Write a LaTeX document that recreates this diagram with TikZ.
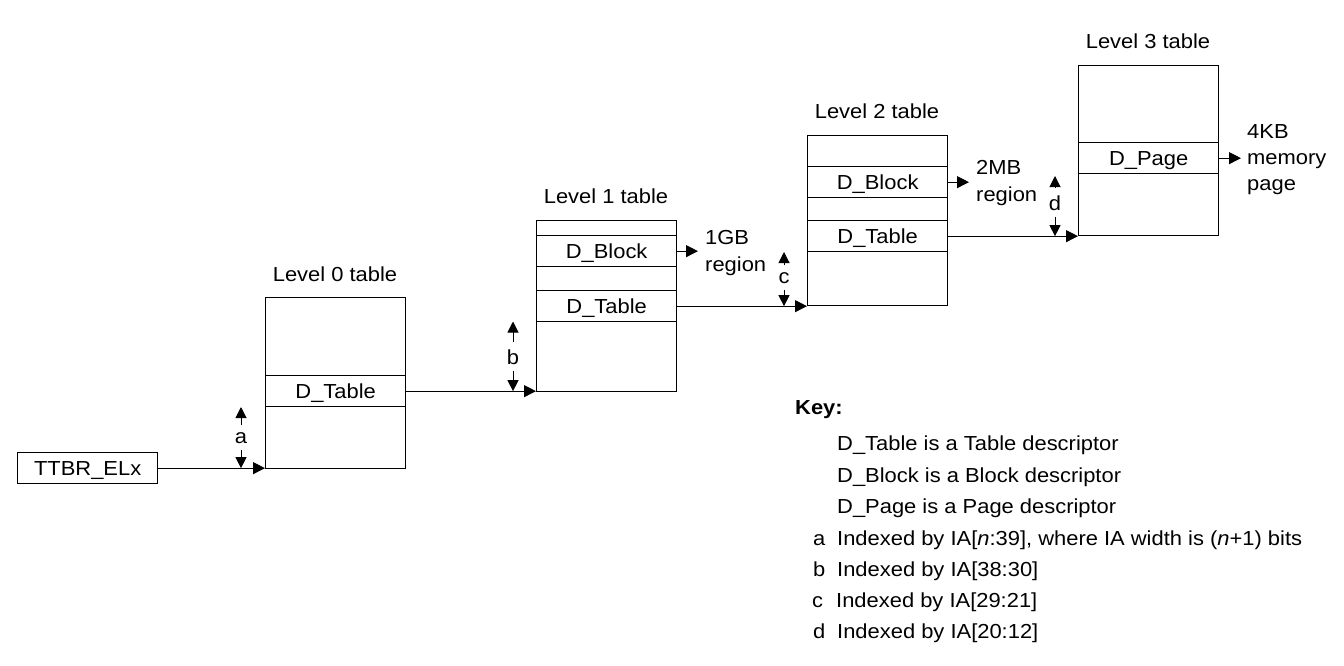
\documentclass[tikz,border=0pt]{standalone}
\usepackage{fontspec}
\setmainfont{Liberation Sans}[FakeStretch=1.08]
\usetikzlibrary{arrows.meta}
\begin{document}
\begin{tikzpicture}[x=1pt,y=-1pt,
  every node/.style={font=\fontsize{20.3}{27}\selectfont},
  tbl/.style={draw, line width=1.3pt, minimum width=140pt, inner sep=0pt, anchor=north west},
  rowbox/.style={draw, line width=1.3pt, minimum width=140pt, minimum height=31pt, inner sep=0pt, anchor=north west, text height=14.6pt, text depth=0pt},
  conn/.style={line width=1pt, -{Triangle[length=12pt,width=12pt]}},
  idx/.style={line width=1pt, -{Triangle[length=11pt,width=11pt]}},
  lbl/.style={anchor=base, inner sep=0pt},
  ilbl/.style={inner sep=0pt},
  reg/.style={anchor=west, align=left, inner sep=0pt},
  kt/.style={anchor=base west, inner sep=0pt},
]
\fill[white] (0,0) rectangle (1344,665);
\useasboundingbox (0,0) rectangle (1344,665);

% tables
\node[tbl, minimum height=171pt] (t0) at (265,297) {};
\node[rowbox] (t0t) at (265,375) {D\_Table};
\node[tbl, minimum height=170.5pt] (t1) at (536,220) {};
\node[rowbox] (t1b) at (536,235) {D\_Block};
\node[rowbox] (t1t) at (536,290) {D\_Table};
\node[tbl, minimum height=170pt] (t2) at (807,135) {};
\node[rowbox] (t2b) at (807,166) {D\_Block};
\node[rowbox] (t2t) at (807,220) {D\_Table};
\node[tbl, minimum height=170pt] (t3) at (1078,65) {};
\node[rowbox] (t3p) at (1078,142) {D\_Page};
\node[rowbox] (ttbr) at (17,452) {TTBR\_ELx};

% table titles
\node[lbl] (l0) at (335,281) {Level 0 table};
\node[lbl] (l1) at (606,203) {Level 1 table};
\node[lbl] (l2) at (877,118) {Level 2 table};
\node[lbl] (l3) at (1148,48) {Level 3 table};

% connectors
\draw[conn] (ttbr.east) -- (ttbr.east -| t0.west);
\draw[conn] (t0t.east) -- (t0t.east -| t1.west);
\draw[conn] (t1t.east) -- (t1t.east -| t2.west);
\draw[conn] (t2t.east) -- (t2t.east -| t3.west);

% regions
\node[reg] (r1) at (705,252.6) {1GB\\region};
\node[reg] (r2) at (976,182.6) {2MB\\region};
\node[reg, font=\fontsize{20.3}{25.7}\selectfont] (r3) at (1247,159.5) {4KB\\memory\\page};
\draw[conn, shorten >=7pt] (t1b.east) -- (t1b.east -| r1.west);
\draw[conn, shorten >=7pt] (t2b.east) -- (t2b.east -| r2.west);
\draw[conn, shorten >=6pt] (t3p.east) -- (t3p.east -| r3.west);

% index markers
\node[ilbl] (ia) at (241,438) {a};
\coordinate (iat) at (241,407);
\draw[idx, shorten <=7pt] (ia.north) -- (iat);
\draw[idx, shorten <=6pt] (ia.south) -- (ia.south |- ttbr.east);

\node[ilbl] (ib) at (513,357) {b};
\coordinate (ibt) at (513,321.5);
\draw[idx, shorten <=7pt] (ib.north) -- (ibt);
\draw[idx, shorten <=6pt] (ib.south) -- (ib.south |- t0t.east);

\node[ilbl] (ic) at (784,278) {c};
\coordinate (ict) at (784,252);
\draw[idx, shorten <=7pt] (ic.north) -- (ict);
\draw[idx, shorten <=6pt] (ic.south) -- (ic.south |- t1t.east);

\node[ilbl] (id) at (1055,203) {d};
\coordinate (idt) at (1055,176);
\draw[idx, shorten <=7pt] (id.north) -- (idt);
\draw[idx, shorten <=6pt] (id.south) -- (id.south |- t2t.east);

% key
\node[kt, font=\fontsize{20.3}{27}\selectfont\bfseries] (key) at (795,414) {Key:};
\node[kt] (k1) at (837,450) {D\_Table is a Table descriptor};
\node[kt] (k2) at (837,482) {D\_Block is a Block descriptor};
\node[kt] (k3) at (837,513) {D\_Page is a Page descriptor};
\node[kt] (k4l) at (813,545) {a};
\node[kt] (k4) at (837,545) {Indexed by IA[\textit{n}:39], where IA width is (\textit{n}+1) bits};
\node[kt] (k5l) at (813,576) {b};
\node[kt] (k5) at (837,576) {Indexed by IA[38:30]};
\node[kt] (k6l) at (812,607) {c};
\node[kt] (k6) at (836,607) {Indexed by IA[29:21]};
\node[kt] (k7l) at (813,638) {d};
\node[kt] (k7) at (837,638) {Indexed by IA[20:12]};
\end{tikzpicture}
\end{document}
